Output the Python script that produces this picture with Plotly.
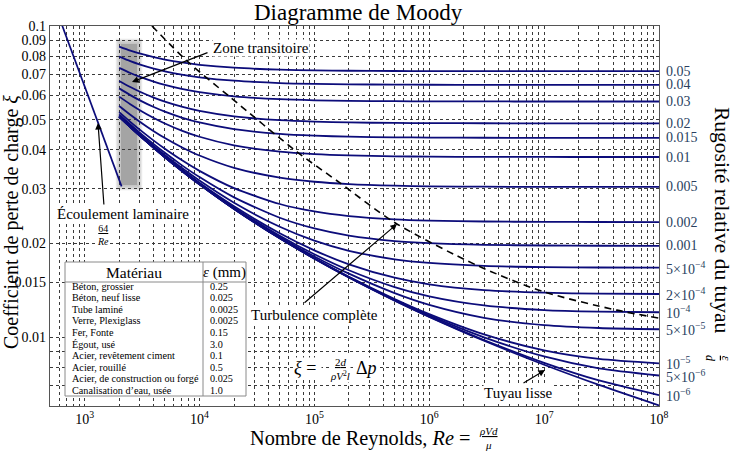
import numpy as np
import plotly.graph_objects as go

# ---------------- data ----------------
Re = [2000, 2500, 3000, 4000, 5000, 7000, 1e4, 2e4, 5e4, 1e5, 2e5,
      5e5, 1e6, 3e6, 1e7, 3e7, 1e8]

f_5e_2 = [0.08584, 0.08334, 0.08161, 0.07938, 0.07799, 0.07634, 0.07504, 0.07344, 0.07238, 0.07200, 0.07179, 0.07166, 0.07161, 0.07157, 0.07156, 0.07155, 0.07155]
f_4e_2 = [0.07972, 0.07712, 0.07532, 0.07298, 0.07152, 0.06978, 0.06840, 0.06669, 0.06556, 0.06515, 0.06493, 0.06478, 0.06473, 0.06469, 0.06468, 0.06467, 0.06467]
f_3e_2 = [0.07334, 0.07060, 0.06870, 0.06621, 0.06464, 0.06276, 0.06127, 0.05940, 0.05816, 0.05770, 0.05746, 0.05730, 0.05724, 0.05720, 0.05718, 0.05718, 0.05718]
f_2e_2 = [0.06658, 0.06365, 0.06159, 0.05887, 0.05714, 0.05504, 0.05336, 0.05123, 0.04979, 0.04926, 0.04897, 0.04878, 0.04872, 0.04867, 0.04865, 0.04864, 0.04864]
f_15e_3 = [0.06302, 0.05995, 0.05778, 0.05489, 0.05304, 0.05078, 0.04895, 0.04659, 0.04499, 0.04439, 0.04407, 0.04386, 0.04378, 0.04372, 0.04370, 0.04369, 0.04369]
f_1e_2 = [0.05928, 0.05604, 0.05372, 0.05061, 0.04860, 0.04610, 0.04404, 0.04134, 0.03946, 0.03875, 0.03836, 0.03811, 0.03801, 0.03794, 0.03792, 0.03791, 0.03791]
f_5e_3 = [0.05533, 0.05185, 0.04934, 0.04591, 0.04364, 0.04077, 0.03833, 0.03499, 0.03253, 0.03156, 0.03102, 0.03066, 0.03052, 0.03043, 0.03039, 0.03037, 0.03037]
f_2e_3 = [0.05283, 0.04917, 0.04650, 0.04280, 0.04030, 0.03706, 0.03422, 0.03011, 0.02677, 0.02533, 0.02449, 0.02390, 0.02368, 0.02352, 0.02345, 0.02343, 0.02342]
f_1e_3 = [0.05197, 0.04824, 0.04551, 0.04170, 0.03910, 0.03570, 0.03267, 0.02812, 0.02418, 0.02234, 0.02119, 0.02035, 0.02003, 0.01978, 0.01969, 0.01965, 0.01964]
f_5e_4 = [0.05153, 0.04777, 0.04500, 0.04113, 0.03848, 0.03499, 0.03184, 0.02702, 0.02262, 0.02041, 0.01893, 0.01778, 0.01730, 0.01693, 0.01678, 0.01673, 0.01671]
f_2e_4 = [0.05127, 0.04748, 0.04470, 0.04078, 0.03810, 0.03455, 0.03132, 0.02631, 0.02155, 0.01899, 0.01713, 0.01551, 0.01477, 0.01415, 0.01388, 0.01378, 0.01375]
f_1e_4 = [0.05118, 0.04739, 0.04459, 0.04067, 0.03797, 0.03440, 0.03115, 0.02606, 0.02117, 0.01845, 0.01639, 0.01447, 0.01351, 0.01263, 0.01221, 0.01207, 0.01201]
f_5e_5 = [0.05114, 0.04734, 0.04454, 0.04061, 0.03791, 0.03433, 0.03106, 0.02594, 0.02097, 0.01816, 0.01598, 0.01384, 0.01269, 0.01153, 0.01092, 0.01069, 0.01059]
f_1e_5 = [0.05110, 0.04730, 0.04450, 0.04056, 0.03786, 0.03427, 0.03099, 0.02584, 0.02080, 0.01792, 0.01562, 0.01325, 0.01185, 0.01020, 0.009059, 0.008500, 0.008224]
f_5e_6 = [0.05110, 0.04730, 0.04450, 0.04056, 0.03785, 0.03426, 0.03098, 0.02583, 0.02078, 0.01789, 0.01558, 0.01317, 0.01173, 0.009974, 0.008657, 0.007927, 0.007519]
f_1e_6 = [0.05109, 0.04729, 0.04449, 0.04055, 0.03785, 0.03425, 0.03097, 0.02582, 0.02076, 0.01787, 0.01554, 0.01311, 0.01163, 0.009776, 0.008258, 0.007249, 0.006506]
f_lisse = [0.05109, 0.04729, 0.04449, 0.04055, 0.03785, 0.03425, 0.03097, 0.02581, 0.02076, 0.01786, 0.01553, 0.01309, 0.01161, 0.009724, 0.008142, 0.007013, 0.006026]

roughness_labels = ["0.05", "0.04", "0.03", "0.02", "0.015", "0.01", "0.005",
                    "0.002", "0.001", "5×10<sup>−4</sup>", "2×10<sup>−4</sup>",
                    "10<sup>−4</sup>", "5×10<sup>−5</sup>", "10<sup>−5</sup>",
                    "5×10<sup>−6</sup>", "10<sup>−6</sup>", ""]
curves = [f_5e_2, f_4e_2, f_3e_2, f_2e_2, f_15e_3, f_1e_2, f_5e_3, f_2e_3,
          f_1e_3, f_5e_4, f_2e_4, f_1e_4, f_5e_5, f_1e_5, f_5e_6, f_1e_6, f_lisse]

# laminar branch 64/Re
Re_lam = [600, 2100]
f_lam = [0.1067, 0.0305]

# dashed boundary of complete turbulence
Re_turb = [3860, 7790, 18450, 70600, 167000, 503000, 2.6e6, 9.77e6, 4.3e7, 1e8]
f_turb = [0.1, 0.0772, 0.0591, 0.0394, 0.0313, 0.0233, 0.0170, 0.0140, 0.0122, 0.0115]

x_tick_vals = [1e3, 1e4, 1e5, 1e6, 1e7, 1e8]
x_tick_text = ["10<sup>3</sup>", "10<sup>4</sup>", "10<sup>5</sup>",
               "10<sup>6</sup>", "10<sup>7</sup>", "10<sup>8</sup>"]
y_tick_vals = [0.1, 0.09, 0.08, 0.07, 0.06, 0.05, 0.04, 0.03, 0.02, 0.015, 0.01]
y_tick_text = ["0.1", "0.09", "0.08", "0.07", "0.06", "0.05", "0.04", "0.03",
               "0.02", "0.015", "0.01"]
y_minor_grid = [0.009, 0.008, 0.007]

materials = ["Béton, grossier", "Béton, neuf lisse", "Tube laminé",
             "Verre, Plexiglass", "Fer, Fonte", "Égout, usé",
             "Acier, revêtement ciment", "Acier, rouillé",
             "Acier, de construction ou forgé", "Canalisation d’eau, usée"]
eps_mm = ["0.25", "0.025", "0.0025", "0.0025", "0.15", "3.0", "0.1", "0.5",
          "0.025", "1.0"]

# ---------------- layout helpers ----------------
WIDTH, HEIGHT = 736, 453
L, T, W, H = 50, 26, 609, 380
XMIN, XMAX = np.log10(500), 8.0
YMIN, YMAX = np.log10(0.006), -1.0
FONT = "Liberation Serif"
NAVY = "#0c0c7a"


def dx(px):
    return XMIN + (px - L) / W * (XMAX - XMIN)


def dy(py):
    return YMAX - (py - T) / H * (YMAX - YMIN)


def qx(px):
    return (px - L) / W


def qy(py):
    return (T + H - py) / H


fig = go.Figure()

for vals in curves:
    fig.add_trace(go.Scatter(x=Re, y=vals, mode="lines", hoverinfo="skip",
                             line=dict(color=NAVY, width=1.8, shape="spline",
                                       smoothing=0.7)))

fig.add_trace(go.Scatter(x=Re_lam, y=f_lam, mode="lines", hoverinfo="skip",
                         line=dict(color=NAVY, width=1.7)))
fig.add_trace(go.Scatter(x=Re_turb, y=f_turb, mode="lines", hoverinfo="skip",
                         line=dict(color="black", width=1.6, dash="7px,5px",
                                   shape="spline", smoothing=0.8)))

# transition band (soft grey)
band = [(121, 44, 137, 185, "#a4a4a4", 1.0)]
for k in range(1, 5):
    band.append((121 - 1.3 * k, 44 - 1.3 * k, 137 + 1.3 * k, 185 + 1.3 * k,
                 "#b0b0b0", 0.28))
for x0, y0, x1, y1, col, op in reversed(band):
    spec = dict(type="rect", xref="paper", yref="paper", x0=qx(x0), x1=qx(x1),
                y0=qy(y1), y1=qy(y0), fillcolor=col, opacity=op,
                line=dict(width=0))
    try:
        fig.add_shape(**spec, layer="between")
    except Exception:
        fig.add_shape(**spec, layer="below")

# materials table
TX0, TX1, TY0, TY1, TDIV, THEAD = 65, 246, 262, 396, 203, 282
fig.add_shape(type="rect", xref="paper", yref="paper", x0=qx(TX0), x1=qx(TX1),
              y0=qy(TY1), y1=qy(TY0), fillcolor="white",
              line=dict(color="#8a8a8a", width=1), layer="above")
fig.add_shape(type="line", xref="paper", yref="paper", x0=qx(TDIV), x1=qx(TDIV),
              y0=qy(TY1), y1=qy(TY0), line=dict(color="#8a8a8a", width=1),
              layer="above")
fig.add_shape(type="line", xref="paper", yref="paper", x0=qx(TX0), x1=qx(TX1),
              y0=qy(THEAD), y1=qy(THEAD), line=dict(color="#8a8a8a", width=1),
              layer="above")

ann = []


def txt(text, px, py, size, xanchor="center", bg=None, angle=0, color="black"):
    d = dict(text=text, xref="paper", yref="paper", x=qx(px), y=qy(py),
             xanchor=xanchor, yanchor="middle", showarrow=False,
             textangle=angle, font=dict(family=FONT, size=size, color=color),
             borderpad=0)
    if bg:
        d["bgcolor"] = bg
    ann.append(d)


def arrow(hx, hy, tx, ty):
    ann.append(dict(x=dx(hx), y=dy(hy), ax=dx(tx), ay=dy(ty), xref="x",
                    yref="y", axref="x", ayref="y", text="", showarrow=True,
                    arrowhead=2, arrowsize=1.1, arrowwidth=1.2,
                    arrowcolor="black"))


txt("Matériau", 134, 272, 15.5)
txt("<i>ε</i> (mm)", 224, 272, 15)
for i, (m, e) in enumerate(zip(materials, eps_mm)):
    yrow = 286 + i * 11.6
    txt(m, 71, yrow, 10.2, xanchor="left")
    txt(e, 209, yrow, 10.2, xanchor="left")

# right-hand roughness labels at curve ends
for lab, vals in zip(roughness_labels, curves):
    if lab:
        ann.append(dict(text=lab, xref="paper", yref="y", x=qx(664),
                        y=np.log10(vals[-1]), xanchor="left", yanchor="middle",
                        showarrow=False, font=dict(family=FONT, size=14)))

# titles
txt("Diagramme de Moody", 358, 12, 23)
txt("Coefficient de perte de charge <i>ξ</i>", 11, 222, 20, angle=-90)
txt("Rugosité relative du tuyau", 722, 220, 21.5, angle=90)
txt("<u><i>ε</i></u><br><i>d</i>", 718, 358, 12, angle=90)
txt("Nombre de Reynolds, <i>Re</i> =", 471, 438, 20.3, xanchor="right")
txt("<u><i>ρVd</i></u><br><i>μ</i>", 488, 438, 11)

# annotations inside the plot
txt("Zone transitoire", 212, 48, 15, xanchor="left", bg="white")
arrow(132, 82, 209, 52)
txt("Écoulement laminaire", 123, 214, 15, bg="white")
txt("<u>64</u><br><i>Re</i>", 103, 235, 10, bg="white")
arrow(98, 123, 104, 206)
txt("Turbulence complète", 314, 315, 15, bg="white")
arrow(397, 224, 303, 304)
txt("Tuyau lisse", 518, 393, 15, bg="white")
arrow(545, 370, 522, 384)
txt("<i>ξ</i> = ", 322, 368, 18, xanchor="right", bg="white")
txt("<u>2<i>d</i></u><br><i>ρV</i><sup>2</sup><i>l</i>", 340, 369, 11, bg="white")
txt("Δ<i>p</i>", 355, 368, 18, xanchor="left", bg="white")

GRIDC, GRIDW, GRIDD = "#3a3a3a", 0.8, "3px,3px"
common = dict(showgrid=True, gridcolor=GRIDC, gridwidth=GRIDW, griddash=GRIDD,
              showline=True, mirror=True, linecolor="#555555", linewidth=1.2,
              ticks="", zeroline=False,
              tickfont=dict(family=FONT, size=14, color="black"))

x_minor = [m * 10 ** p for p in range(2, 8) for m in range(2, 10)
           if 500 < m * 10 ** p < 1e8]
fig.update_xaxes(type="log", range=[XMIN, XMAX], tickmode="array",
                 tickvals=x_tick_vals, ticktext=x_tick_text,
                 minor=dict(tickmode="array", tickvals=x_minor, showgrid=True,
                            gridcolor=GRIDC, gridwidth=GRIDW, griddash=GRIDD,
                            ticks=""),
                 **common)
fig.update_yaxes(type="log", range=[YMIN, YMAX], tickmode="array",
                 tickvals=y_tick_vals, ticktext=y_tick_text,
                 minor=dict(tickmode="array", tickvals=y_minor_grid,
                            showgrid=True, gridcolor=GRIDC, gridwidth=GRIDW,
                            griddash=GRIDD, ticks=""),
                 **common)

fig.update_layout(width=WIDTH, height=HEIGHT,
                  margin=dict(l=L, r=WIDTH - L - W, t=T, b=HEIGHT - T - H),
                  showlegend=False, plot_bgcolor="white", paper_bgcolor="white",
                  annotations=ann, font=dict(family=FONT))

fig.write_html("out.html", config={"displayModeBar": False},
               post_script="document.body.style.margin='0';"
                           "document.body.style.overflow='hidden';")
